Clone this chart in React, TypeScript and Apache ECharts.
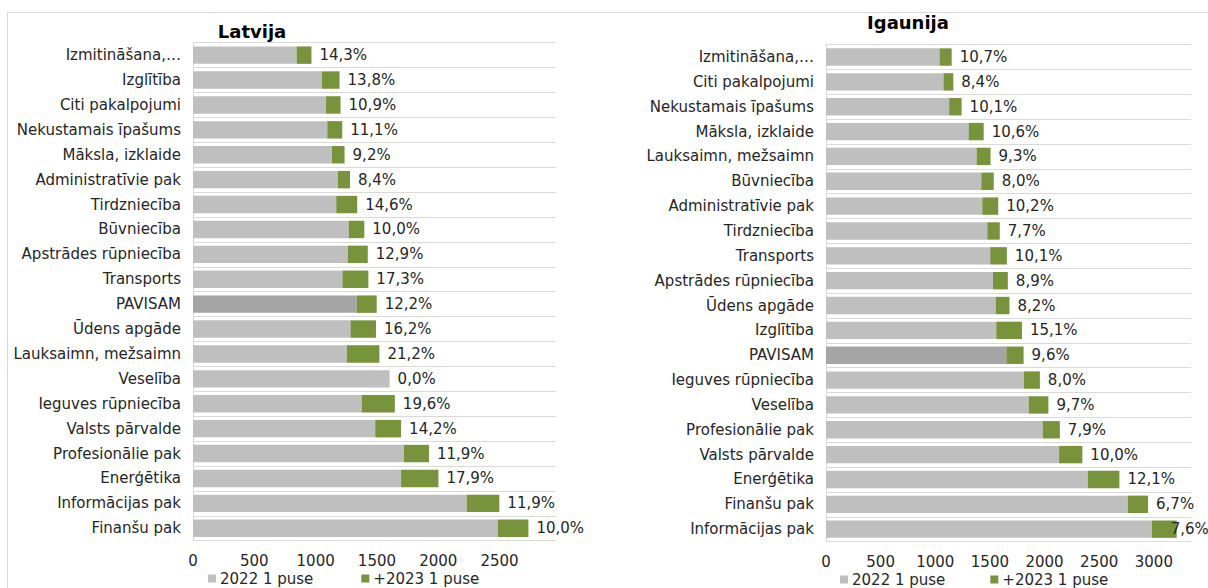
import React, { useEffect, useRef } from "react";
import * as echarts from "echarts";

const latCategories = [
  "Izmitināšana,…", "Izglītība", "Citi pakalpojumi", "Nekustamais īpašums", "Māksla, izklaide",
  "Administratīvie pak", "Tirdzniecība", "Būvniecība", "Apstrādes rūpniecība", "Transports",
  "PAVISAM", "Ūdens apgāde", "Lauksaimn, mežsaimn", "Veselība", "Ieguves rūpniecība",
  "Valsts pārvalde", "Profesionālie pak", "Enerģētika", "Informācijas pak", "Finanšu pak",
];
const lat2022 = [845, 1050, 1085, 1095, 1132, 1181, 1168, 1270, 1262, 1219, 1335, 1284, 1254, 1603, 1376, 1486, 1719, 1697, 2232, 2486];
const latIncrease = [121, 145, 118, 122, 104, 99, 171, 127, 163, 211, 163, 208, 266, 0, 270, 211, 205, 304, 266, 249];
const latPct = [14.3, 13.8, 10.9, 11.1, 9.2, 8.4, 14.6, 10.0, 12.9, 17.3, 12.2, 16.2, 21.2, 0.0, 19.6, 14.2, 11.9, 17.9, 11.9, 10.0];

const estCategories = [
  "Izmitināšana,…", "Citi pakalpojumi", "Nekustamais īpašums", "Māksla, izklaide", "Lauksaimn, mežsaimn",
  "Būvniecība", "Administratīvie pak", "Tirdzniecība", "Transports", "Apstrādes rūpniecība",
  "Ūdens apgāde", "Izglītība", "PAVISAM", "Ieguves rūpniecība", "Veselība",
  "Profesionālie pak", "Valsts pārvalde", "Enerģētika", "Finanšu pak", "Informācijas pak",
];
const est2022 = [1039, 1075, 1127, 1305, 1378, 1421, 1430, 1476, 1503, 1528, 1552, 1558, 1650, 1812, 1855, 1983, 2133, 2395, 2762, 2982];
const estIncrease = [111, 90, 114, 138, 128, 114, 146, 114, 152, 136, 127, 235, 158, 145, 180, 157, 213, 290, 185, 227];
const estPct = [10.7, 8.4, 10.1, 10.6, 9.3, 8.0, 10.2, 7.7, 10.1, 8.9, 8.2, 15.1, 9.6, 8.0, 9.7, 7.9, 10.0, 12.1, 6.7, 7.6];

const titles = ["Latvija", "Igaunija"];
const seriesNames = ["2022 1 puse", "+2023 1 puse"];
const valueTickInterval = 500;
const latMax = 2960;
const estMax = 3340;

const FONT = "DejaVu Sans";
const TEXT = "#262626";
const GRAY = "#bfbfbf";
const DARK = "#a5a5a5";
const GREEN = "#77933c";
const GRID_LINE = "#d9d9d9";
const FS = 15;

const fmtPct = (v: number) => v.toFixed(1).replace(".", ",") + "%";

export default function App() {
  const ref = useRef<HTMLDivElement>(null);

  useEffect(() => {
    if (!ref.current) return;
    const chart = echarts.init(ref.current, undefined, { renderer: "svg" });

    const panels = [
      { cats: latCategories, base: lat2022, inc: latIncrease, pct: latPct, max: latMax,
        grid: { left: 193, top: 42.7, width: 363, height: 498 }, lastLabelDistance: 8 },
      { cats: estCategories, base: est2022, inc: estIncrease, pct: estPct, max: estMax,
        grid: { left: 826, top: 44.6, width: 365, height: 497 }, lastLabelDistance: -6 },
    ];

    const option: any = {
      animation: false,
      textStyle: { fontFamily: FONT, color: TEXT },
      graphic: [
        { type: "rect", shape: { x: 7.5, y: 12.5, width: 1300, height: 700 },
          style: { fill: "none", stroke: GRID_LINE, lineWidth: 1 }, silent: true },
        { type: "text", x: 252, y: 31,
          style: { text: titles[0], align: "center", verticalAlign: "middle",
            font: `bold 18px "${FONT}"`, fill: "#000" } },
        { type: "text", x: 908, y: 22,
          style: { text: titles[1], align: "center", verticalAlign: "middle",
            font: `bold 18px "${FONT}"`, fill: "#000" } },
      ],
      legend: [
        { left: 208, top: 571, padding: 0, itemWidth: 8, itemHeight: 8, itemGap: 48, icon: "rect",
          data: seriesNames, textStyle: { fontFamily: FONT, fontSize: FS, color: TEXT, padding: [0, 0, 0, -1] } },
        { left: 840, top: 572, padding: 0, itemWidth: 8, itemHeight: 8, itemGap: 45, icon: "rect",
          data: seriesNames, textStyle: { fontFamily: FONT, fontSize: FS, color: TEXT, padding: [0, 0, 0, -1] } },
      ],
      grid: panels.map((p) => ({ ...p.grid, containLabel: false })),
      xAxis: panels.map((p, i) => ({
        type: "value", gridIndex: i, min: 0, max: p.max, interval: valueTickInterval,
        axisLine: { show: false }, axisTick: { show: false }, splitLine: { show: false },
        axisLabel: { showMaxLabel: false, margin: 13, fontSize: FS, color: TEXT, fontFamily: FONT,
          formatter: (v: number) => String(v) },
      })),
      yAxis: panels.map((p, i) => ({
        type: "category", gridIndex: i, data: p.cats, inverse: true,
        axisLine: { show: true, lineStyle: { color: GRID_LINE } },
        axisTick: { show: false },
        splitLine: { show: true, lineStyle: { color: GRID_LINE, width: 1 } },
        axisLabel: { margin: 12, fontSize: FS, color: TEXT, fontFamily: FONT, interval: 0 },
      })),
      series: panels.flatMap((p, i) => [
        {
          name: seriesNames[0], type: "bar", stack: "s" + i, xAxisIndex: i, yAxisIndex: i,
          barWidth: "70%", itemStyle: { color: GRAY },
          data: p.base.map((v, k) =>
            p.cats[k] === "PAVISAM" ? { value: v, itemStyle: { color: DARK } } : v),
        },
        {
          name: seriesNames[1], type: "bar", stack: "s" + i, xAxisIndex: i, yAxisIndex: i,
          barWidth: "70%", itemStyle: { color: GREEN },
          data: p.inc.map((v, k) =>
            k === p.inc.length - 1 ? { value: v, label: { distance: p.lastLabelDistance } } : v),
          label: {
            show: true, position: "right", distance: 8, fontSize: FS, color: TEXT, fontFamily: FONT,
            formatter: (params: any) => fmtPct(p.pct[params.dataIndex]),
          },
        },
      ]),
    };

    chart.setOption(option);
    return () => chart.dispose();
  }, []);

  return (
    <div
      ref={ref}
      style={{ position: "absolute", left: 0, top: 0, width: 1208, height: 588, background: "#fff" }}
    />
  );
}
